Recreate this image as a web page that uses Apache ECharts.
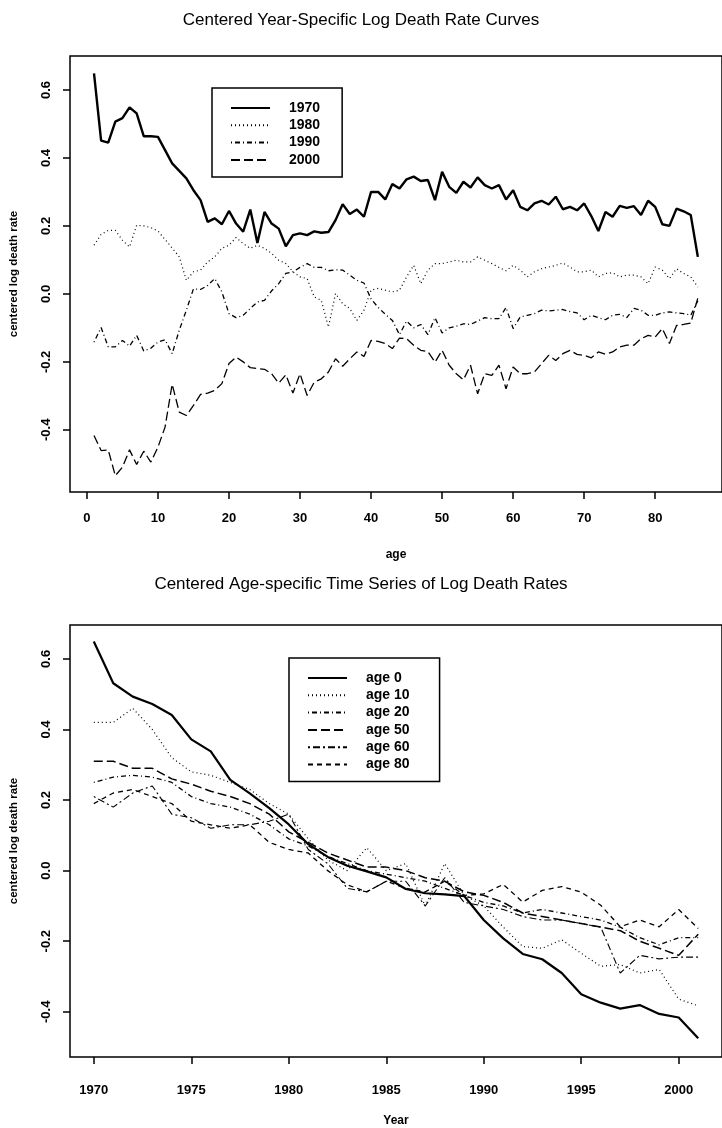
<!DOCTYPE html>
<html>
<head>
<meta charset="utf-8">
<script src="https://cdn.jsdelivr.net/npm/echarts@6/dist/echarts.min.js"></script>
<style>
  html, body { margin: 0; padding: 0; background: #fff; }
  #chart { width: 722px; height: 1128px; }
</style>
</head>
<body>
<div id="chart"></div>
<script>
// top panel: log death rate by age, one curve per year
var ages = [];
for (var a = 1; a <= 86; a++) ages.push(a);

var rate1970 = [0.649,0.451,0.445,0.507,0.517,0.549,0.531,0.464,0.464,0.462,
  0.423,0.384,0.362,0.340,0.305,0.276,0.212,0.222,0.205,0.244,
  0.207,0.183,0.248,0.150,0.241,0.207,0.192,0.140,0.173,0.178,
  0.173,0.184,0.180,0.182,0.217,0.264,0.235,0.248,0.227,0.300,
  0.300,0.278,0.323,0.310,0.337,0.345,0.332,0.335,0.276,0.359,
  0.315,0.297,0.330,0.313,0.343,0.320,0.310,0.320,0.278,0.305,
  0.256,0.246,0.266,0.274,0.263,0.286,0.249,0.256,0.246,0.266,
  0.229,0.185,0.241,0.227,0.259,0.253,0.258,0.232,0.274,0.256,
  0.205,0.200,0.251,0.243,0.232,0.109];
var rate1980 = [0.143,0.175,0.187,0.187,0.158,0.138,0.202,0.200,0.195,0.185,
  0.160,0.135,0.109,0.040,0.065,0.070,0.094,0.109,0.134,0.143,
  0.166,0.148,0.134,0.143,0.134,0.119,0.099,0.089,0.065,0.050,
  0.045,-0.009,-0.019,-0.098,0.001,-0.029,-0.043,-0.078,-0.048,0.011,
  0.016,0.011,0.006,0.011,0.050,0.084,0.030,0.070,0.089,0.089,
  0.094,0.099,0.094,0.094,0.109,0.099,0.089,0.078,0.068,0.084,
  0.070,0.050,0.065,0.074,0.079,0.084,0.091,0.079,0.065,0.065,
  0.070,0.050,0.060,0.062,0.050,0.055,0.055,0.050,0.030,0.079,
  0.070,0.045,0.074,0.060,0.050,0.020];
var rate1990 = [-0.142,-0.099,-0.156,-0.156,-0.137,-0.154,-0.122,-0.168,-0.160,-0.142,
  -0.135,-0.176,-0.107,-0.048,0.015,0.013,0.025,0.045,0.006,-0.058,
  -0.070,-0.063,-0.043,-0.024,-0.019,0.009,0.030,0.060,0.065,0.078,
  0.089,0.078,0.078,0.068,0.071,0.070,0.055,0.040,0.032,-0.015,
  -0.040,-0.060,-0.078,-0.120,-0.080,-0.100,-0.090,-0.120,-0.070,-0.115,
  -0.100,-0.095,-0.088,-0.090,-0.080,-0.070,-0.073,-0.073,-0.040,-0.102,
  -0.068,-0.063,-0.058,-0.048,-0.050,-0.048,-0.046,-0.052,-0.056,-0.076,
  -0.063,-0.070,-0.076,-0.063,-0.060,-0.070,-0.043,-0.048,-0.063,-0.063,
  -0.056,-0.053,-0.056,-0.058,-0.063,-0.020];
var rate2000 = [-0.417,-0.461,-0.459,-0.535,-0.510,-0.459,-0.502,-0.463,-0.495,-0.451,
  -0.392,-0.266,-0.348,-0.358,-0.328,-0.296,-0.292,-0.284,-0.264,-0.205,
  -0.186,-0.200,-0.217,-0.220,-0.222,-0.235,-0.263,-0.238,-0.292,-0.235,
  -0.299,-0.260,-0.250,-0.230,-0.191,-0.213,-0.191,-0.171,-0.184,-0.137,
  -0.140,-0.146,-0.161,-0.130,-0.132,-0.151,-0.166,-0.170,-0.201,-0.166,
  -0.210,-0.235,-0.253,-0.210,-0.294,-0.235,-0.240,-0.210,-0.279,-0.215,
  -0.235,-0.235,-0.230,-0.205,-0.181,-0.196,-0.176,-0.166,-0.178,-0.181,
  -0.188,-0.171,-0.178,-0.171,-0.156,-0.151,-0.151,-0.132,-0.122,-0.127,
  -0.102,-0.146,-0.093,-0.090,-0.086,-0.012];

// bottom panel: time series by age
var years = [1970,1971,1972,1973,1974,1975,1976,1977,1978,1979,1980,1981,1982,1983,1984,1985,
  1986,1987,1988,1989,1990,1991,1992,1993,1994,1995,1996,1997,1998,1999,2000,2001];
var age0 = [0.649,0.531,0.493,0.472,0.441,0.372,0.338,0.257,0.219,0.177,0.131,0.075,0.039,0.014,-0.002,-0.019,
  -0.052,-0.064,-0.067,-0.072,-0.140,-0.192,-0.236,-0.251,-0.290,-0.350,-0.374,-0.391,-0.381,-0.406,-0.416,-0.475];
var age10 = [0.42,0.42,0.46,0.40,0.32,0.28,0.27,0.25,0.23,0.19,0.16,0.09,0.03,0.00,0.065,0.00,
  0.02,-0.10,0.02,-0.07,-0.10,-0.16,-0.215,-0.22,-0.196,-0.234,-0.271,-0.266,-0.29,-0.28,-0.364,-0.383];
var age20 = [0.25,0.265,0.27,0.265,0.25,0.21,0.19,0.18,0.16,0.13,0.09,0.07,0.04,0.02,0.00,-0.01,
  -0.02,-0.03,-0.05,-0.07,-0.09,-0.10,-0.12,-0.11,-0.12,-0.13,-0.14,-0.16,-0.19,-0.21,-0.19,-0.19];
var age50 = [0.31,0.31,0.29,0.29,0.26,0.245,0.225,0.21,0.19,0.16,0.11,0.08,0.05,0.03,0.01,0.01,
  0.00,-0.02,-0.03,-0.06,-0.07,-0.09,-0.12,-0.13,-0.14,-0.15,-0.16,-0.17,-0.20,-0.22,-0.24,-0.18];
var age60 = [0.21,0.18,0.22,0.24,0.16,0.15,0.12,0.13,0.13,0.14,0.16,0.06,0.02,-0.05,-0.06,-0.03,
  -0.03,-0.10,-0.02,-0.09,-0.10,-0.11,-0.13,-0.14,-0.14,-0.15,-0.16,-0.29,-0.24,-0.25,-0.245,-0.245];
var age80 = [0.19,0.22,0.23,0.21,0.19,0.14,0.13,0.12,0.13,0.08,0.06,0.05,0.00,-0.04,-0.06,-0.03,
  -0.05,-0.06,-0.03,-0.07,-0.066,-0.039,-0.089,-0.056,-0.045,-0.061,-0.098,-0.159,-0.140,-0.159,-0.110,-0.164];

var ageTicks = [0,10,20,30,40,50,60,70,80];
var yearTicks = [1970,1975,1980,1985,1990,1995,2000];
var rateTicks = [-0.4,-0.2,0,0.2,0.4,0.6];

var FONT = '"Liberation Sans", Arial, Helvetica, sans-serif';

function pairs(xs, ys) {
  return xs.map(function (x, i) { return [x, ys[i]]; });
}

function mkSeries(name, xs, ys, idx, dash, width) {
  return {
    name: name,
    type: 'line',
    xAxisIndex: idx,
    yAxisIndex: idx,
    symbol: 'none',
    data: pairs(xs, ys),
    lineStyle: { color: '#000', width: width || 1.2, type: dash },
    itemStyle: { color: '#000' },
    z: 3
  };
}

function xAxisOpt(idx, min, max, ticks, name, gap, margin) {
  return {
    type: 'value', gridIndex: idx, min: min, max: max,
    name: name, nameLocation: 'middle', nameGap: gap,
    nameTextStyle: { fontFamily: FONT, fontSize: 12, fontWeight: 'bold', color: '#000' },
    axisLine: { show: false, onZero: false },
    splitLine: { show: false },
    axisTick: { show: true, length: 7, customValues: ticks, lineStyle: { color: '#000', width: 1.5 } },
    axisLabel: {
      customValues: ticks, margin: margin, fontFamily: FONT, fontSize: 13, fontWeight: 'bold', color: '#000',
      formatter: function (v) { return String(v); }
    }
  };
}

function yAxisOpt(idx, min, max) {
  return {
    type: 'value', gridIndex: idx, min: min, max: max,
    name: 'centered log death rate', nameLocation: 'middle', nameGap: 50, nameRotate: 90,
    nameTextStyle: { fontFamily: FONT, fontSize: 11.5, fontWeight: 'bold', color: '#000' },
    axisLine: { show: false, onZero: false },
    splitLine: { show: false },
    axisTick: { show: true, length: 7, customValues: rateTicks, lineStyle: { color: '#000', width: 1.5 } },
    axisLabel: {
      customValues: rateTicks, rotate: 90, margin: 17,
      fontFamily: FONT, fontSize: 13, fontWeight: 'bold', color: '#000',
      formatter: function (v) { return v.toFixed(1); }
    }
  };
}

function legendOpt(names, left, top, padRight) {
  return {
    data: names, orient: 'vertical', left: left, top: top,
    itemWidth: 39, itemHeight: 14, itemGap: 3.3,
    padding: [13, padRight, 10, 18],
    borderColor: '#000', borderWidth: 1.5, backgroundColor: '#fff',
    itemStyle: { opacity: 0 },
    textStyle: { fontFamily: FONT, fontSize: 14, fontWeight: 'bold', color: '#000', lineHeight: 14, padding: [0, 0, 0, 14] }
  };
}

var chart = echarts.init(document.getElementById('chart'));
chart.setOption({
  animation: false,
  backgroundColor: '#fff',
  title: [
    { text: 'Centered Year-Specific Log Death Rate Curves', left: 'center', top: 7,
      textStyle: { fontFamily: FONT, fontSize: 17, fontWeight: 'normal', color: '#000' } },
    { text: 'Centered Age-specific Time Series of Log Death Rates', left: 'center', top: 571,
      textStyle: { fontFamily: FONT, fontSize: 17, fontWeight: 'normal', color: '#000' } }
  ],
  grid: [
    { left: 66, top: 56, width: 667, height: 436, show: true, borderColor: '#000', borderWidth: 1.5 },
    { left: 69, top: 625, width: 664.5, height: 437, show: true, borderColor: '#000', borderWidth: 1.5 }
  ],
  xAxis: [
    xAxisOpt(0, -2.38, 89.4, ageTicks, 'age', 57, 20),
    xAxisOpt(1, 1968.78, 2002.22, yearTicks, 'Year', 58, 27)
  ],
  yAxis: [
    yAxisOpt(0, -0.583, 0.70),
    yAxisOpt(1, -0.528, 0.696)
  ],
  legend: [
    legendOpt(['1970', '1980', '1990', '2000'], 212, 88, 22),
    legendOpt(['age 0', 'age 10', 'age 20', 'age 50', 'age 60', 'age 80'], 289, 658, 30)
  ],
  series: [
    mkSeries('1970', ages, rate1970, 0, 'solid', 2.4),
    mkSeries('1980', ages, rate1980, 0, [1, 3], 1.2),
    mkSeries('1990', ages, rate1990, 0, [1, 3, 5, 3], 1.3),
    mkSeries('2000', ages, rate2000, 0, [9, 4], 1.3),
    mkSeries('age 0', years, age0, 1, 'solid', 2.2),
    mkSeries('age 10', years, age10, 1, [1, 3], 1.2),
    mkSeries('age 20', years, age20, 1, [1, 3, 5, 3], 1.3),
    mkSeries('age 50', years, age50, 1, [9, 4], 1.5),
    mkSeries('age 60', years, age60, 1, [2, 3, 7, 3], 1.1),
    mkSeries('age 80', years, age80, 1, [5, 4], 1.3)
  ]
});
window.addEventListener('resize', function () { chart.resize(); });
</script>
</body>
</html>
